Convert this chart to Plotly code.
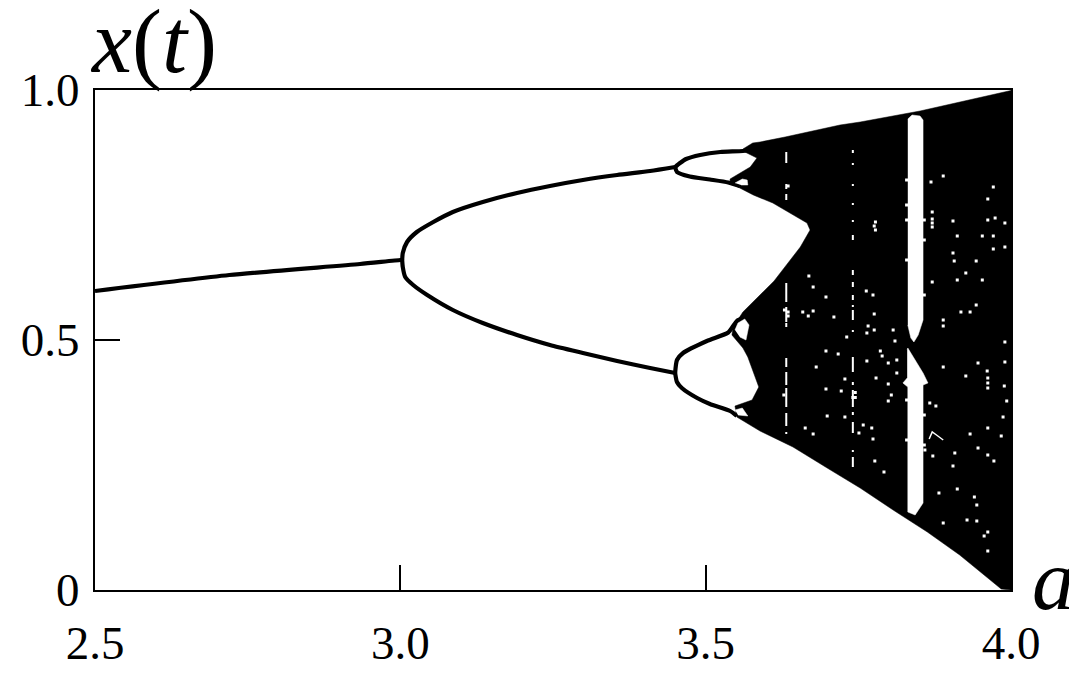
import plotly.graph_objects as go

# Stable and periodic branches (a, x(t))
fixed_a = [2.5, 2.72, 2.934, 3.0, 3.003]
fixed_x = [0.598, 0.630, 0.652, 0.660, 0.660]
upper_a = [3.003, 3.004, 3.011, 3.027, 3.054, 3.086, 3.135, 3.191, 3.245, 3.299, 3.355, 3.409, 3.450]
upper_x = [0.660, 0.674, 0.696, 0.716, 0.736, 0.756, 0.776, 0.794, 0.808, 0.820, 0.830, 0.838, 0.846]
lower_a = [3.003, 3.004, 3.008, 3.021, 3.044, 3.086, 3.135, 3.191, 3.245, 3.299, 3.355, 3.409, 3.450]
lower_x = [0.660, 0.646, 0.626, 0.610, 0.590, 0.560, 0.534, 0.510, 0.490, 0.474, 0.458, 0.444, 0.434]

p4_top_hi_a = [3.450, 3.458, 3.468, 3.491, 3.524, 3.561, 3.584]
p4_top_hi_x = [0.846, 0.854, 0.862, 0.870, 0.876, 0.878, 0.882]
p4_top_lo_a = [3.450, 3.453, 3.474, 3.507, 3.537, 3.556]
p4_top_lo_x = [0.846, 0.836, 0.827, 0.821, 0.815, 0.808]
p4_bot_hi_a = [3.450, 3.453, 3.463, 3.502, 3.537, 3.545, 3.551, 3.564]
p4_bot_hi_x = [0.434, 0.460, 0.474, 0.498, 0.515, 0.528, 0.538, 0.546]
p4_bot_lo_a = [3.450, 3.453, 3.461, 3.486, 3.507, 3.540, 3.551]
p4_bot_lo_x = [0.434, 0.416, 0.404, 0.384, 0.372, 0.358, 0.348]

# Outline of the chaotic region
chaos_a = [3.561, 3.577, 3.589, 3.630, 3.720, 3.753, 3.851, 3.982, 4.0, 4.0,
           3.984, 3.916, 3.863, 3.807, 3.753, 3.699, 3.643, 3.589, 3.551,
           3.548, 3.576, 3.587, 3.569, 3.561, 3.543, 3.545, 3.561, 3.612,
           3.655, 3.671, 3.666, 3.610, 3.578, 3.540, 3.540, 3.573, 3.584, 3.561]
chaos_x = [0.882, 0.894, 0.896, 0.906, 0.930, 0.936, 0.958, 0.994, 0.999, 0.0,
           0.002, 0.070, 0.116, 0.160, 0.204, 0.244, 0.286, 0.318, 0.346,
           0.368, 0.380, 0.406, 0.466, 0.484, 0.510, 0.526, 0.556, 0.618,
           0.686, 0.720, 0.734, 0.774, 0.790, 0.814, 0.822, 0.846, 0.864, 0.878]

# Periodic windows and small gaps inside the chaotic region
window_hi_a = [3.831, 3.838, 3.851, 3.856, 3.856, 3.848, 3.841, 3.836, 3.831]
window_hi_x = [0.942, 0.950, 0.948, 0.940, 0.540, 0.510, 0.496, 0.504, 0.530]
window_lo_a = [3.830, 3.831, 3.856, 3.864, 3.856, 3.856, 3.843, 3.831, 3.831, 3.823, 3.830]
window_lo_x = [0.480, 0.484, 0.434, 0.414, 0.410, 0.174, 0.150, 0.156, 0.406, 0.414, 0.424]
gap_top_a = [3.548, 3.560, 3.568, 3.569, 3.558]
gap_top_x = [0.814, 0.822, 0.820, 0.810, 0.810]
gap_bot_a = [3.548, 3.560, 3.569, 3.553]
gap_bot_x = [0.360, 0.364, 0.348, 0.350]
gap_mid_a = [3.548, 3.553, 3.564, 3.571, 3.566, 3.556]
gap_mid_x = [0.520, 0.534, 0.542, 0.530, 0.500, 0.506]

# Narrow vertical gaps
streak1_x = [0.876, 0.854, None, 0.812, 0.802, None, 0.792, 0.780, None, 0.614, 0.576, None,
             0.566, 0.536, None, 0.534, 0.526, None, 0.464, 0.446, None, 0.436, 0.410, None,
             0.404, 0.366, None, 0.354, 0.328, None, 0.316, 0.312]
streak1_a = [3.632 if v is not None else None for v in streak1_x]
streak2_x = [0.880, 0.874, None, 0.854, 0.850, None, 0.812, 0.808, None, 0.774, 0.770, None,
             0.740, 0.736, None, 0.710, 0.700, None, 0.640, 0.630, None, 0.616, 0.606, None,
             0.590, 0.580, None, 0.570, 0.566, None, 0.560, 0.540, None, 0.520, 0.516, None,
             0.466, 0.436, None, 0.416, 0.410, None, 0.400, 0.366, None, 0.356, 0.350, None,
             0.336, 0.314, None, 0.280, 0.276, None, 0.266, 0.246]
streak2_a = [3.741 if v is not None else None for v in streak2_x]
trace_a = [3.866, 3.871, 3.878, 3.889]
trace_x = [0.302, 0.316, 0.310, 0.300]

# Isolated white specks
speck_a = [3.669, 3.676, 3.697, 3.659, 3.676, 3.668, 3.710, 3.763, 3.774, 3.776, 3.766, 3.764,
           3.776, 3.807, 3.731, 3.776, 3.778, 3.778, 3.869, 3.889, 3.971, 3.962, 3.871, 3.871,
           3.871, 3.871, 3.905, 3.912, 3.953, 3.971, 3.990, 3.974, 3.962, 3.971, 3.990, 3.905,
           3.907, 3.943, 3.926, 3.912, 3.953, 3.871, 3.943, 3.918, 3.933, 3.889, 3.889, 3.990,
           3.810, 3.697, 3.717, 3.764, 3.681, 3.786, 3.789, 3.799, 3.813, 3.813, 3.779, 3.728,
           3.697, 3.722, 3.799, 3.804, 3.799, 3.699, 3.728, 3.758, 3.772, 3.663, 3.676, 3.751,
           3.774, 3.777, 3.792, 3.889, 3.926, 3.946, 3.961, 3.962, 3.962, 3.962, 3.990, 3.989,
           3.993, 3.877, 3.867, 3.987, 3.962, 3.984, 3.933, 3.872, 3.908, 3.905, 3.946, 3.962,
           3.972, 3.882, 3.912, 3.940, 3.944, 3.928, 3.944, 3.889, 3.962, 3.956, 3.962, 3.635,
           3.635, 3.635, 3.741, 3.745, 3.745, 3.829, 3.829, 3.829, 3.829, 3.858, 3.858, 3.858,
           3.859, 3.829, 3.829, 3.858, 3.858, 3.628, 3.629]
speck_x = [0.628, 0.606, 0.586, 0.556, 0.558, 0.548, 0.546, 0.598, 0.590, 0.552, 0.528, 0.514,
           0.520, 0.520, 0.506, 0.728, 0.736, 0.720, 0.816, 0.828, 0.806, 0.782, 0.756, 0.742,
           0.734, 0.726, 0.738, 0.708, 0.708, 0.708, 0.734, 0.744, 0.740, 0.682, 0.686, 0.674,
           0.658, 0.658, 0.634, 0.620, 0.620, 0.616, 0.570, 0.556, 0.556, 0.540, 0.528, 0.496,
           0.498, 0.478, 0.472, 0.458, 0.446, 0.478, 0.468, 0.454, 0.460, 0.434, 0.424, 0.422,
           0.402, 0.398, 0.412, 0.390, 0.378, 0.348, 0.346, 0.330, 0.324, 0.324, 0.312, 0.314,
           0.302, 0.258, 0.236, 0.446, 0.428, 0.454, 0.438, 0.424, 0.414, 0.404, 0.456, 0.408,
           0.378, 0.368, 0.374, 0.346, 0.324, 0.308, 0.312, 0.268, 0.274, 0.248, 0.284, 0.270,
           0.258, 0.194, 0.202, 0.186, 0.170, 0.140, 0.138, 0.134, 0.116, 0.108, 0.078, 0.808,
           0.548, 0.556, 0.385, 0.385, 0.395, 0.820, 0.770, 0.740, 0.660, 0.740, 0.700, 0.590,
           0.280, 0.380, 0.300, 0.350, 0.290, 0.390, 0.560]

x_ticks = [2.5, 3.0, 3.5, 4.0]
x_tick_labels = ["2.5", "3.0", "3.5", "4.0"]
y_ticks = [0, 0.5, 1.0]
y_tick_labels = ["0", "0.5", "1.0"]

FONT = "Liberation Serif"
fig = go.Figure()


def polygon(xs, ys, color):
    fig.add_trace(go.Scatter(x=xs, y=ys, mode="lines", fill="toself", fillcolor=color,
                             line=dict(color=color, width=0.5), hoverinfo="skip", showlegend=False))


def branch(xs, ys, color="black", width=4.2, shape="spline"):
    fig.add_trace(go.Scatter(x=xs, y=ys, mode="lines",
                             line=dict(color=color, width=width, shape=shape, smoothing=0.6),
                             connectgaps=False, hoverinfo="skip", showlegend=False))


polygon(chaos_a, chaos_x, "black")
for xs, ys in [(fixed_a, fixed_x), (upper_a, upper_x), (lower_a, lower_x),
               (p4_top_hi_a, p4_top_hi_x), (p4_top_lo_a, p4_top_lo_x),
               (p4_bot_hi_a, p4_bot_hi_x), (p4_bot_lo_a, p4_bot_lo_x)]:
    branch(xs, ys)
for xs, ys in [(window_hi_a, window_hi_x), (window_lo_a, window_lo_x), (gap_top_a, gap_top_x),
               (gap_bot_a, gap_bot_x), (gap_mid_a, gap_mid_x)]:
    polygon(xs, ys, "white")
branch(streak1_a, streak1_x, "white", 2, "linear")
branch(streak2_a, streak2_x, "white", 2, "linear")
branch(trace_a, trace_x, "white", 1.5, "linear")
fig.add_trace(go.Scatter(x=speck_a, y=speck_x, mode="markers",
                         marker=dict(symbol="square", size=3, color="white", line=dict(width=0)),
                         hoverinfo="skip", showlegend=False))

fig.update_layout(
    width=1069, height=667, autosize=False,
    margin=dict(l=87, r=66, t=82, b=85, autoexpand=False),
    paper_bgcolor="white", plot_bgcolor="white",
    showlegend=False,
    font=dict(family=FONT, color="black", size=47),
    xaxis=dict(range=[2.5, 4.0], tickmode="array", tickvals=x_ticks, ticktext=x_tick_labels,
               ticks="inside", ticklen=25, tickwidth=1.5, tickcolor="black",
               showline=True, linecolor="black", linewidth=2, mirror=True, showgrid=False,
               zeroline=False, automargin=False, ticklabelstandoff=11,
               tickfont=dict(family=FONT, size=47, color="black")),
    yaxis=dict(range=[0, 1.0], tickmode="array", tickvals=y_ticks, ticktext=y_tick_labels,
               ticks="inside", ticklen=25, tickwidth=1.5, tickcolor="black",
               showline=True, linecolor="black", linewidth=2, mirror=True, showgrid=False,
               zeroline=False, automargin=False, ticklabelstandoff=4,
               tickfont=dict(family=FONT, size=47, color="black")),
    annotations=[
        dict(text="<i>x</i>(<i>t</i>)", xref="paper", yref="paper", x=0, y=1, xanchor="left",
             yanchor="bottom", xshift=-7, yshift=-4, showarrow=False,
             font=dict(family=FONT, size=90, color="black")),
        dict(text="<i>a</i>", xref="paper", yref="paper", x=1, y=0, xanchor="left",
             yanchor="middle", xshift=19, yshift=10, showarrow=False,
             font=dict(family=FONT, size=86, color="black")),
    ],
)

fig.write_html("out.html")
